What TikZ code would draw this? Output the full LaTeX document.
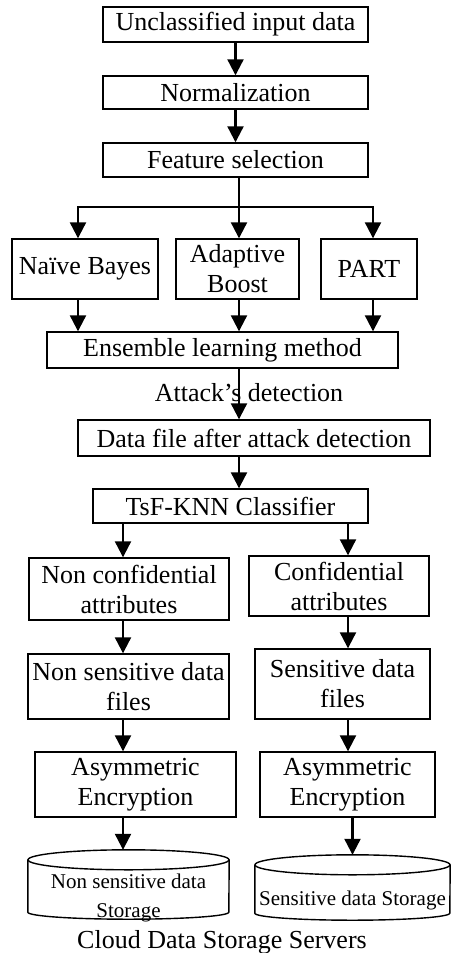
\documentclass[tikz,border=0pt]{standalone}
\usepackage{fontspec}
\setmainfont{Liberation Serif}
\usetikzlibrary{arrows.meta}

\tikzset{
  box/.style={draw, line width=1.4pt, align=center, inner sep=2pt},
  arr/.style={line width=2.2pt, -{Triangle[width=16pt,length=16pt]}},
  drum/.style={line width=1.4pt},
}

\begin{document}
\begin{tikzpicture}[x=1pt, y=-1pt, font=\fontsize{26}{30}\selectfont]
  \useasboundingbox (0,0) rectangle (451,953);
  % preprocessing chain
  \node[box, minimum width=265pt, minimum height=35pt] (input) at (235.5,24.5) {Unclassified input data};
  \node[box, minimum width=265pt, minimum height=33pt] (norm) at (235.5,92.5) {Normalization};
  \node[box, minimum width=265pt, minimum height=34pt] (feat) at (235.5,160) {Feature selection};
  \draw[arr] (input) -- (norm);
  \draw[arr] (norm) -- (feat);
  % three classifiers
  \foreach \name/\x/\w/\txt in {nb/85/146/Naïve Bayes, ada/237.5/123/Adaptive\\Boost, part/369/96/PART} {
    \node[box, minimum width=\w pt, minimum height=60pt] (\name) at (\x,269) {\txt};
  }
  \node[box, minimum width=351pt, minimum height=36pt] (ens) at (222.5,350) {Ensemble learning method};
  \coordinate (fork) at (239,207);
  \draw[line width=2.2pt] (feat.south -| fork) -- (fork);
  \foreach \name/\dx in {nb/-7, ada/1.5, part/4} {
    \draw[arr] (fork) -| ([xshift=\dx pt]\name.north);
    \draw[arr] ([xshift=\dx pt]\name.south) -- ([xshift=\dx pt]\name.south |- ens.north);
  }
  % detection
  \node[box, minimum width=352pt, minimum height=36pt] (file) at (254,438) {Data file after attack detection};
  \node[box, minimum width=275pt, minimum height=34pt] (knn) at (230.5,506) {TsF-KNN Classifier};
  \node (atk) at (249,393) {Attack’s detection};
  \draw[arr] (fork |- ens.south) -- (fork |- file.north);
  \draw[arr] (fork |- file.south) -- (fork |- knn.north);
  % two branches
  \node[box, minimum width=200pt, minimum height=62pt] (nonconf) at (129,589) {Non confidential\\attributes};
  \node[box, minimum width=180pt, minimum height=60pt] (conf) at (339,586) {Confidential\\attributes};
  \node[box, minimum width=201pt, minimum height=65pt] (nonsens) at (128.5,686.5) {Non sensitive data\\files};
  \node[box, minimum width=175pt, minimum height=70pt] (sens) at (342.5,684) {Sensitive data\\files};
  \node[box, minimum width=201pt, minimum height=65pt] (encl) at (135.5,784.5) {Asymmetric\\Encryption};
  \node[box, minimum width=175pt, minimum height=65pt] (encr) at (347.5,784.5) {Asymmetric\\Encryption};
  % storage drums
  \node[minimum width=201pt, minimum height=62pt, inner sep=0pt] (storel) at (128.5,881) {};
  \node[minimum width=195pt, minimum height=58pt, inner sep=0pt] (storer) at (352.5,884) {};
  \draw[drum] ([yshift=-10pt]storel.north) ellipse [x radius=100.5pt, y radius=10pt];
  \draw[drum] ([yshift=-10pt]storel.north west) -- (storel.south west)
    arc[start angle=180, end angle=360, x radius=100.5pt, y radius=7pt] -- ([yshift=-10pt]storel.north east);
  \draw[drum] ([yshift=-10pt]storer.north) ellipse [x radius=97.5pt, y radius=10pt];
  \draw[drum] ([yshift=-10pt]storer.north west) -- (storer.south west)
    arc[start angle=180, end angle=360, x radius=97.5pt, y radius=7pt] -- ([yshift=-10pt]storer.north east);
  \node[align=center, font=\fontsize{21}{29}\selectfont] (storeltxt) at (128.5,898) {Non sensitive data\\Storage};
  \node[anchor=base, font=\fontsize{21}{29}\selectfont] (storertxt) at (352.5,905) {Sensitive data Storage};
  \coordinate (lcol) at (123,0);
  \coordinate (rcol) at (348,0);
  \foreach \a/\b in {knn/nonconf, nonconf/nonsens, nonsens/encl, encl/storel} {
    \draw[arr] (\a.south -| lcol) -- (\b.north -| lcol);
  }
  \foreach \a/\b in {knn/conf, conf/sens, sens/encr} {
    \draw[arr] (\a.south -| rcol) -- (\b.north -| rcol);
  }
  \draw[arr] (encr.south -| storer.north) -- (storer.north);
  \node[anchor=base] (cap) at (222,948) {Cloud Data Storage Servers};
\end{tikzpicture}
\end{document}
